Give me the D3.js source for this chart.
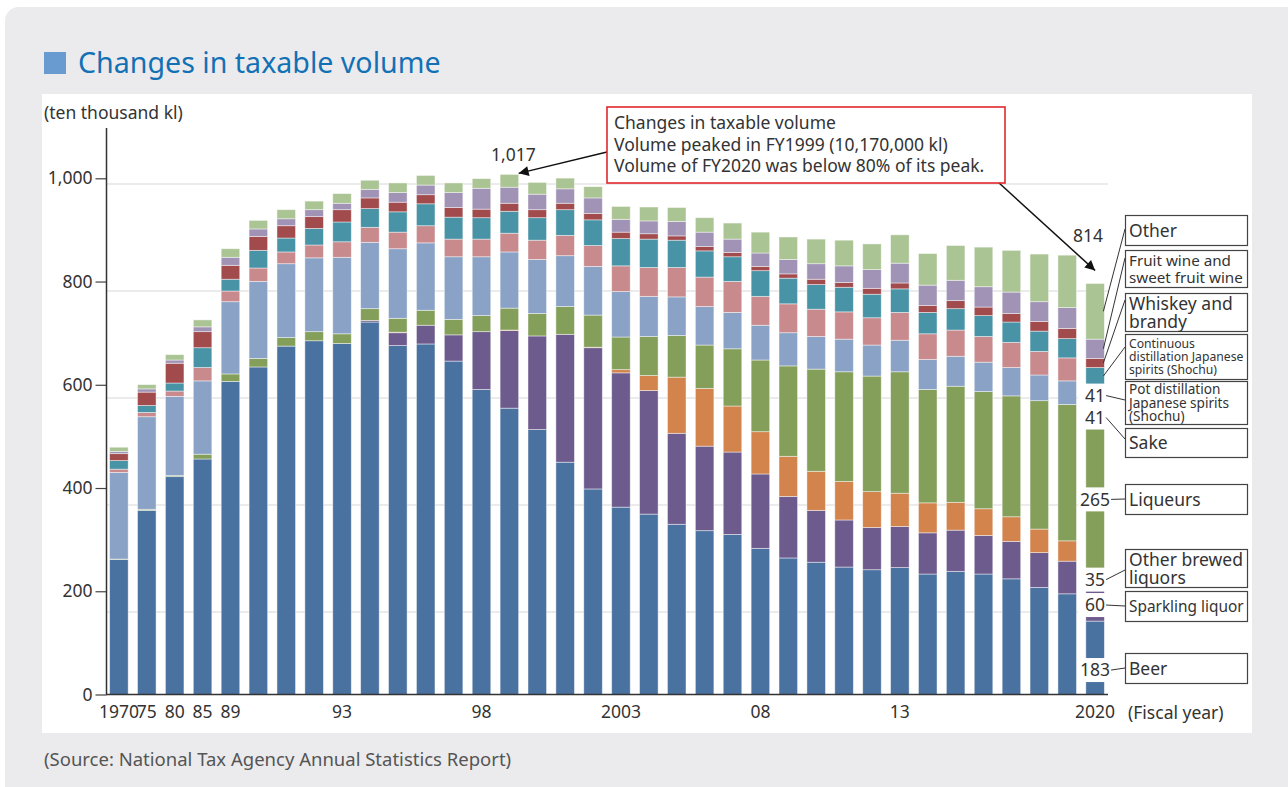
<!DOCTYPE html>
<html>
<head>
<meta charset="utf-8">
<script src="https://cdn.jsdelivr.net/npm/d3@7"></script>
<style>
body { margin: 0; background: #fff; }
svg { display: block; font-family: "Noto Sans", "DejaVu Sans", sans-serif; }
</style>
</head>
<body>
<div id="chart"></div>
<script>
// fiscal years on the x axis
var years = ["1970", "1975", "1980", "1985", "1989", "1990", "1991", "1992", "1993", "1994",
    "1995", "1996", "1997", "1998", "1999", "2000", "2001", "2002", "2003", "2004",
    "2005", "2006", "2007", "2008", "2009", "2010", "2011", "2012", "2013", "2014",
    "2015", "2016", "2017", "2018", "2019", "2020"];

var xTickYears = ["1970", "1975", "1980", "1985", "1989", "1993", "1998", "2003", "2008", "2013", "2020"];
var xTickLabels = ["1970", "75", "80", "85", "89", "93", "98", "2003", "08", "13", "2020"];
var yTickValues = [0, 200, 400, 600, 800, 1000];
var gridValues = [200, 400, 600, 800, 1000];

// taxable volume, ten thousand kl
var beer = [298, 390, 453, 486, 631, 658, 697, 707, 702, 742, 698, 701, 669, 616, 581, 541, 480, 430, 396, 383,
    364, 352, 345, 319, 301, 293, 284, 279, 283, 271, 276, 271, 262, 246, 234, 183];
var sparkling = [0, 0, 0, 0, 0, 0, 0, 0, 0, 3, 24, 35, 49, 108, 145, 175, 239, 264, 251, 231,
    170, 158, 154, 139, 115, 97, 88, 79, 77, 77, 77, 72, 70, 65, 61, 60];
var otherBrewed = [0, 0, 0, 0, 0, 0, 0, 0, 0, 0, 1, 0, 0, 0, 1, 0, 0, 1, 6, 28,
    105, 108, 86, 79, 75, 73, 72, 67, 62, 56, 52, 50, 46, 44, 38, 35];
var liqueurs = [1, 2, 2, 9, 14, 16, 16, 17, 18, 22, 26, 28, 29, 30, 41, 42, 52, 60, 61, 73,
    78, 81, 107, 134, 169, 191, 205, 216, 227, 212, 217, 219, 226, 240, 255, 265];
var sake = [162, 173, 148, 137, 135, 144, 138, 138, 143, 124, 130, 126, 117, 110, 105, 101, 95, 91, 85, 75,
    72, 72, 68, 65, 62, 61, 61, 58, 59, 56, 56, 55, 53, 48, 44, 41];
var potShochu = [6, 8, 10, 25, 20, 25, 22, 24, 29, 28, 31, 32, 33, 33, 35, 36, 38, 39, 48, 54,
    55, 55, 58, 54, 54, 51, 51, 51, 52, 48, 49, 48, 47, 44, 43, 41];
var contShochu = [16, 13, 15, 37, 22, 33, 26, 31, 37, 35, 38, 41, 41, 40, 41, 42, 48, 48, 51, 53,
    51, 49, 46, 48, 48, 46, 46, 44, 44, 40, 40, 39, 38, 38, 36, 32];
var whiskey = [13, 25, 37, 30, 26, 26, 23, 22, 23, 20, 18, 17, 18, 16, 15, 15, 12, 12, 12, 10,
    8, 8, 8, 8, 8, 10, 9, 11, 11, 13, 15, 16, 16, 18, 19, 17];
var fruitWine = [4, 6, 6, 9, 15, 14, 13, 13, 12, 16, 18, 18, 28, 39, 30, 29, 27, 29, 24, 24,
    27, 27, 25, 25, 27, 29, 31, 35, 37, 38, 38, 38, 40, 37, 39, 36];
var other = [8, 8, 10, 13, 16, 16, 17, 16, 18, 17, 18, 18, 18, 18, 24, 22, 20, 21, 24, 26,
    26, 27, 30, 39, 42, 46, 48, 48, 53, 59, 65, 74, 78, 89, 98, 104];

var seriesKeys = ["beer", "sparkling", "otherBrewed", "liqueurs", "sake", "potShochu",
    "contShochu", "whiskey", "fruitWine", "other"];
var seriesValues = [beer, sparkling, otherBrewed, liqueurs, sake, potShochu,
    contShochu, whiskey, fruitWine, other];
var seriesLabels = [
    ["Beer"], ["Sparkling liquor"], ["Other brewed", "liquors"], ["Liqueurs"], ["Sake"],
    ["Pot distillation", "Japanese spirits", "(Shochu)"],
    ["Continuous", "distillation Japanese", "spirits (Shochu)"],
    ["Whiskey and", "brandy"], ["Fruit wine and", "sweet fruit wine"], ["Other"]];
var colors = ["#4a72a0", "#6e5b8e", "#d3834c", "#849f5a", "#89a2c6", "#c88a8d",
    "#4893a6", "#a14b4d", "#a093b6", "#abc494"];

var peakYear = "1999", peakLabel = "1,017";
var lastYear = "2020", lastLabel = "814";
// FY2020 values printed next to the last bar (series index -> text)
var lastValueLabels = [[0, "183"], [1, "60"], [2, "35"], [3, "265"], [4, "41"], [5, "41"]];

var noteLines = ["Changes in taxable volume",
    "Volume peaked in FY1999 (10,170,000 kl)",
    "Volume of FY2020 was below 80% of its peak."];

// legend box layout on the right: top, height, leader line end, font size, line gap
var legendLayout = [
    { top: 653, h: 30, anchor: 668, size: 17.5, lh: 18 },
    { top: 591, h: 30, anchor: 606, size: 15.4, lh: 18 },
    { top: 549, h: 38, anchor: 570, size: 17.5, lh: 18 },
    { top: 484, h: 30, anchor: 499, size: 17.5, lh: 18 },
    { top: 428, h: 29, anchor: 439, size: 17.5, lh: 18 },
    { top: 381, h: 43, anchor: 400, size: 13.6, lh: 13.4 },
    { top: 334, h: 45, anchor: 347, size: 12.2, lh: 13 },
    { top: 293, h: 38, anchor: 300, size: 17.5, lh: 18 },
    { top: 250, h: 37, anchor: 258, size: 15.2, lh: 17.5 },
    { top: 215, h: 30, anchor: 229, size: 17.5, lh: 18 }
];

var W = 1288, H = 787;
var svg = d3.select("#chart").append("svg")
    .attr("width", W)
    .attr("height", H);

// grey panel and white plot card
svg.append("rect")
    .attr("x", 5).attr("y", 7)
    .attr("width", W + 20).attr("height", H + 20)
    .attr("rx", 14)
    .attr("fill", "#ebebed");
svg.append("rect")
    .attr("x", 42).attr("y", 94)
    .attr("width", 1210).attr("height", 639)
    .attr("fill", "#fff");

// title
svg.append("rect")
    .attr("x", 44).attr("y", 52)
    .attr("width", 22).attr("height", 22)
    .attr("fill", "#6a9bd0");
svg.append("text")
    .attr("x", 78).attr("y", 73)
    .attr("fill", "#1271b5")
    .style("font-size", "28.6px")
    .text("Changes in taxable volume");

svg.append("text")
    .attr("x", 44).attr("y", 113)
    .attr("dy", "0.35em")
    .attr("fill", "#333")
    .style("font-size", "17.5px")
    .text("(ten thousand kl)");

svg.append("text")
    .attr("x", 44).attr("y", 760)
    .attr("dy", "0.35em")
    .attr("fill", "#555")
    .style("font-size", "18.5px")
    .text("(Source: National Tax Agency Annual Statistics Report)");

var table = years.map(function(yr, i) {
    var row = { year: yr };
    seriesKeys.forEach(function(k, j) { row[k] = seriesValues[j][i]; });
    return row;
});
var stacked = d3.stack().keys(seriesKeys)(table);

var baseY = 694.5;
var x = d3.scaleBand()
    .domain(years)
    .range([106, 1108])
    .paddingInner(0.335)
    .paddingOuter(0.13);
// bars and grid lines sit on this scale...
var y = d3.scaleLinear()
    .domain([0, 1000])
    .range([719, 184]);
// ...while the printed tick labels sit a little higher
var yTicks = d3.scaleLinear()
    .domain([0, 1000])
    .range([baseY, 178.3]);

svg.append("g")
    .selectAll("line")
    .data(gridValues)
    .enter()
    .append("line")
    .attr("x1", 107).attr("x2", 1108)
    .attr("y1", function(d) { return y(d); })
    .attr("y2", function(d) { return y(d); })
    .attr("stroke", "#e4e4e4")
    .attr("stroke-width", 1.5);

svg.append("clipPath")
    .attr("id", "plotclip")
    .append("rect")
    .attr("x", 100).attr("y", 0)
    .attr("width", 1020).attr("height", baseY);

svg.append("g")
    .attr("clip-path", "url(#plotclip)")
    .selectAll("g")
    .data(stacked)
    .enter()
    .append("g")
    .attr("fill", function(d, i) { return colors[i]; })
    .selectAll("rect")
    .data(function(d) { return d; })
    .enter()
    .append("rect")
    .attr("x", function(d) { return x(d.data.year); })
    .attr("y", function(d) { return y(d[1]); })
    .attr("width", x.bandwidth())
    .attr("height", function(d) { return Math.max(0, y(d[0]) - y(d[1])); })
    .attr("stroke", "#fff")
    .attr("stroke-opacity", 0.55)
    .attr("stroke-width", 0.8);

// axes
var yAxis = svg.append("g")
    .attr("transform", "translate(106.5,0)")
    .call(d3.axisLeft(yTicks).tickValues(yTickValues).tickSize(11).tickPadding(3)
        .tickFormat(d3.format(",")));
yAxis.select(".domain").remove();
yAxis.selectAll("line").attr("stroke", "#444").attr("stroke-width", 1.2);
yAxis.selectAll("text").attr("fill", "#333").style("font-size", "17.5px")
    .style("font-family", "Noto Sans, sans-serif");

svg.append("line")
    .attr("x1", 106.5).attr("x2", 106.5)
    .attr("y1", 128).attr("y2", baseY)
    .attr("stroke", "#333").attr("stroke-width", 1.5);

var xAxis = svg.append("g")
    .attr("transform", "translate(0," + baseY + ")")
    .call(d3.axisBottom(x).tickValues(xTickYears).tickSize(0).tickPadding(11)
        .tickFormat(function(d) { return xTickLabels[xTickYears.indexOf(d)]; }));
xAxis.select(".domain").attr("stroke", "#333").attr("stroke-width", 1.5)
    .attr("d", "M106,0H1108");
xAxis.selectAll("text").attr("fill", "#333").style("font-size", "17.5px")
    .style("font-family", "Noto Sans, sans-serif");

svg.append("text")
    .attr("x", 1128).attr("y", 713)
    .attr("dy", "0.35em")
    .attr("fill", "#333")
    .style("font-size", "17.5px")
    .text("(Fiscal year)");

// last bar: value labels on white patches
var lastIdx = years.indexOf(lastYear);
var lastX = x(lastYear) + x.bandwidth() / 2;
var lastRight = x(lastYear) + x.bandwidth();
function segMid(si) {
    var seg = stacked[si][lastIdx];
    return y((seg[0] + seg[1]) / 2);
}

var valueLabels = svg.append("g");
lastValueLabels.forEach(function(d) {
    var ly = segMid(d[0]);
    valueLabels.append("rect")
        .attr("x", lastX - 17).attr("y", ly - 12)
        .attr("width", 34).attr("height", 24)
        .attr("fill", "#fff");
});
lastValueLabels.forEach(function(d) {
    var ly = segMid(d[0]);
    valueLabels.append("text")
        .attr("x", lastX).attr("y", ly)
        .attr("dy", "0.35em")
        .attr("text-anchor", "middle")
        .attr("fill", "#333")
        .style("font-size", "17.5px")
        .text(d[1]);
    valueLabels.append("line")
        .attr("x1", lastX + (d[1].length > 2 ? 16 : 11)).attr("y1", ly)
        .attr("x2", 1125).attr("y2", legendLayout[d[0]].anchor)
        .attr("stroke", "#333").attr("stroke-width", 1);
});

// leader lines for the top four series start at the bar edge
[6, 7, 8, 9].forEach(function(si) {
    svg.append("line")
        .attr("x1", lastRight - 1).attr("y1", segMid(si))
        .attr("x2", 1125).attr("y2", legendLayout[si].anchor)
        .attr("stroke", "#333").attr("stroke-width", 1);
});

// legend boxes
var legend = svg.append("g")
    .selectAll("g")
    .data(seriesLabels)
    .enter()
    .append("g");
legend.append("rect")
    .attr("x", 1125.5)
    .attr("y", function(d, i) { return legendLayout[i].top + 0.5; })
    .attr("width", 122)
    .attr("height", function(d, i) { return legendLayout[i].h; })
    .attr("fill", "#fff")
    .attr("stroke", "#444")
    .attr("stroke-width", 1.2);
legend.each(function(lines, i) {
    var lay = legendLayout[i];
    var cy = lay.top + lay.h / 2 + 0.5;
    lines.forEach(function(t, k) {
        d3.select(this).append("text")
            .attr("x", 1129)
            .attr("y", cy + (k - (lines.length - 1) / 2) * lay.lh)
            .attr("dy", "0.35em")
            .attr("fill", "#333")
            .style("font-size", lay.size + "px")
            .text(t);
    }, this);
});

// note box with arrows
svg.append("defs").append("marker")
    .attr("id", "arrow")
    .attr("viewBox", "0 0 10 10")
    .attr("refX", 10).attr("refY", 5)
    .attr("markerWidth", 13).attr("markerHeight", 10)
    .attr("markerUnits", "userSpaceOnUse")
    .attr("orient", "auto")
    .append("path")
    .attr("d", "M0,0L10,5L0,10z")
    .attr("fill", "#111");

var peakTotal = d3.sum(seriesValues, function(s) { return s[years.indexOf(peakYear)]; });
var lastTotal = d3.sum(seriesValues, function(s) { return s[lastIdx]; });

svg.append("line")
    .attr("x1", 607).attr("y1", 152)
    .attr("x2", x(peakYear) + x.bandwidth()).attr("y2", y(peakTotal) - 1)
    .attr("stroke", "#111").attr("stroke-width", 1.5)
    .attr("marker-end", "url(#arrow)");
svg.append("line")
    .attr("x1", 998).attr("y1", 182)
    .attr("x2", lastX).attr("y2", y(lastTotal) - 13)
    .attr("stroke", "#111").attr("stroke-width", 1.5)
    .attr("marker-end", "url(#arrow)");

svg.append("text")
    .attr("x", x(peakYear) + x.bandwidth() / 2 + 4).attr("y", 155)
    .attr("dy", "0.35em")
    .attr("text-anchor", "middle")
    .attr("fill", "#333")
    .style("font-size", "17.5px")
    .text(peakLabel);
svg.append("text")
    .attr("x", lastX - 7).attr("y", 236)
    .attr("dy", "0.35em")
    .attr("text-anchor", "middle")
    .attr("fill", "#333")
    .style("font-size", "17.5px")
    .text(lastLabel);

svg.append("rect")
    .attr("x", 607).attr("y", 107)
    .attr("width", 398).attr("height", 76)
    .attr("fill", "#fff")
    .attr("stroke", "#e0272c")
    .attr("stroke-width", 1.6);
svg.append("g")
    .selectAll("text")
    .data(noteLines)
    .enter()
    .append("text")
    .attr("x", 614)
    .attr("y", function(d, i) { return 123 + i * 21.5; })
    .attr("dy", "0.35em")
    .attr("fill", "#333")
    .style("font-size", "17.5px")
    .text(function(d) { return d; });
</script>
</body>
</html>
